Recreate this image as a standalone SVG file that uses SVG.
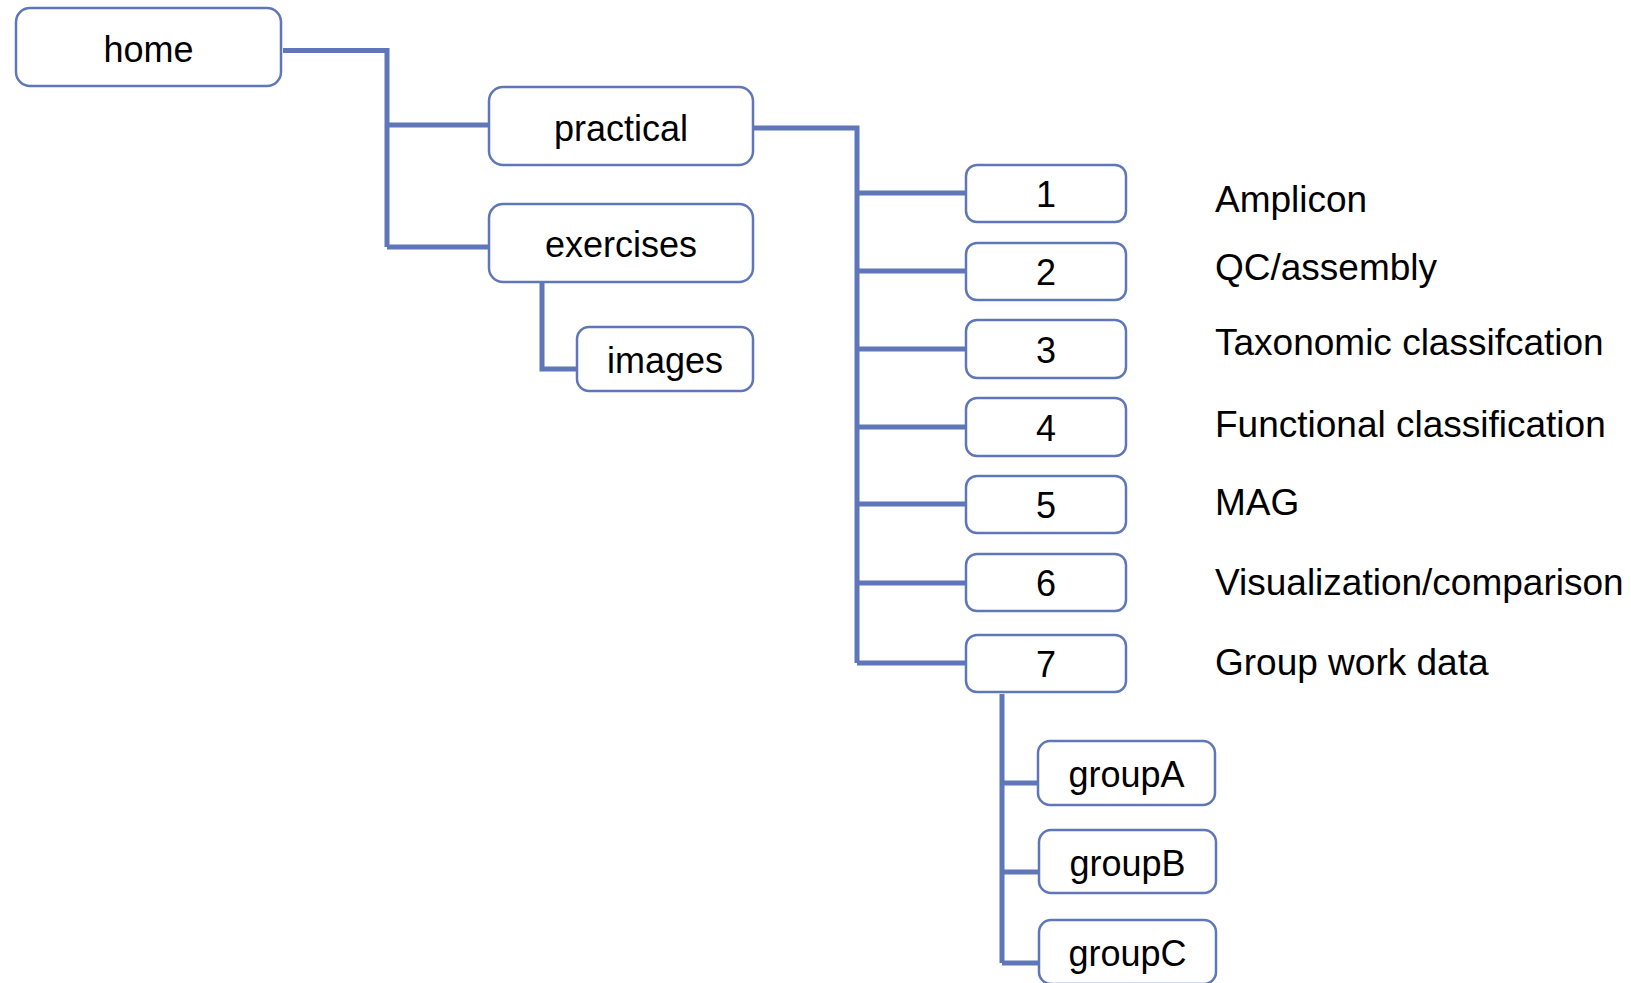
<svg xmlns="http://www.w3.org/2000/svg" width="1631" height="983" viewBox="0 0 1631 983">
<style>
.box{fill:#fff;stroke:#5f77b9;stroke-width:2.5}
.lbl{font-family:"Liberation Sans",Arial,sans-serif;font-size:36px;fill:#000;text-anchor:middle}
.side{font-family:"Liberation Sans",Arial,sans-serif;font-size:37px;fill:#000}
.con{fill:none;stroke:#5f77b9;stroke-width:5}
</style>
<rect width="1631" height="983" fill="#fff"/>
<g id="connectors">
<path class="con" d="M283 50.5H387V247"/>
<path class="con" d="M387 125H490"/>
<path class="con" d="M387 247H490"/>
<path class="con" d="M542 282V369H577"/>
<path class="con" d="M753 128H857V663"/>
<path class="con" d="M857 193H966"/>
<path class="con" d="M857 271H966"/>
<path class="con" d="M857 349H966"/>
<path class="con" d="M857 427H966"/>
<path class="con" d="M857 504H966"/>
<path class="con" d="M857 583H966"/>
<path class="con" d="M857 663H966"/>
<path class="con" d="M1002 694V963"/>
<path class="con" d="M1002 783H1038"/>
<path class="con" d="M1002 872H1039"/>
<path class="con" d="M1002 963H1039"/>
</g>
<g id="home"><rect class="box" x="16" y="8" width="265" height="78" rx="14"/><text class="lbl" x="148.5" y="62">home</text></g>
<g id="practical"><rect class="box" x="489" y="87" width="264" height="78" rx="14"/><text class="lbl" x="621" y="141">practical</text></g>
<g id="exercises"><rect class="box" x="489" y="204" width="264" height="78" rx="14"/><text class="lbl" x="621" y="257">exercises</text></g>
<g id="images"><rect class="box" x="577" y="327" width="176" height="64" rx="12"/><text class="lbl" x="665" y="373">images</text></g>
<g id="n1"><rect class="box" x="966" y="165" width="160" height="57" rx="11"/><text class="lbl" x="1046" y="207">1</text></g>
<g id="n2"><rect class="box" x="966" y="243" width="160" height="57" rx="11"/><text class="lbl" x="1046" y="285">2</text></g>
<g id="n3"><rect class="box" x="966" y="320" width="160" height="58" rx="11"/><text class="lbl" x="1046" y="363">3</text></g>
<g id="n4"><rect class="box" x="966" y="398" width="160" height="58" rx="11"/><text class="lbl" x="1046" y="441">4</text></g>
<g id="n5"><rect class="box" x="966" y="476" width="160" height="57" rx="11"/><text class="lbl" x="1046" y="518">5</text></g>
<g id="n6"><rect class="box" x="966" y="554" width="160" height="57" rx="11"/><text class="lbl" x="1046" y="596">6</text></g>
<g id="n7"><rect class="box" x="966" y="635" width="160" height="57" rx="11"/><text class="lbl" x="1046" y="677">7</text></g>
<g id="groupA"><rect class="box" x="1038" y="741" width="177" height="64" rx="12"/><text class="lbl" x="1126.5" y="787">groupA</text></g>
<g id="groupB"><rect class="box" x="1039" y="830" width="177" height="63" rx="12"/><text class="lbl" x="1127.5" y="876">groupB</text></g>
<g id="groupC"><rect class="box" x="1039" y="920" width="177" height="64" rx="12"/><text class="lbl" x="1127.5" y="966">groupC</text></g>
<g id="labels">
<text class="side" x="1215" y="212">Amplicon</text>
<text class="side" x="1215" y="280">QC/assembly</text>
<text class="side" x="1215" y="355">Taxonomic classifcation</text>
<text class="side" x="1215" y="437">Functional classification</text>
<text class="side" x="1215" y="515">MAG</text>
<text class="side" x="1215" y="595">Visualization/comparison</text>
<text class="side" x="1215" y="675">Group work data</text>
</g>
</svg>
